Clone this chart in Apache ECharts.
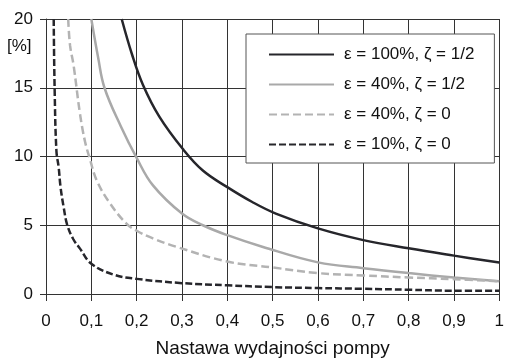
<!DOCTYPE html>
<html>
<head>
<meta charset="utf-8">
<script src="https://cdn.jsdelivr.net/npm/echarts@6/dist/echarts.min.js"></script>
<style>
  html, body { margin: 0; padding: 0; background: #fff; }
  #chart { width: 507px; height: 363px; }
</style>
</head>
<body>
<div id="chart"></div>
<script>
// serie: [nastawa, blad %]
var names = ["ε = 100%, ζ = 1/2", "ε = 40%, ζ = 1/2", "ε = 40%, ζ = 0", "ε = 10%, ζ = 0"];
var s1 = [[0.167, 20], [0.19, 17.4], [0.214, 15.2], [0.25, 12.9], [0.302, 10.54], [0.346, 8.98],
  [0.4, 7.77], [0.455, 6.69], [0.507, 5.85], [0.6, 4.77], [0.7, 3.92], [0.8, 3.32], [0.9, 2.79], [1.0, 2.29]];
var s2 = [[0.1, 20], [0.115, 17.2], [0.129, 15], [0.165, 12.2], [0.2, 9.9], [0.236, 7.9], [0.3, 5.85],
  [0.346, 5.0], [0.4, 4.28], [0.477, 3.44], [0.6, 2.3], [0.7, 1.88], [0.8, 1.52], [0.9, 1.2], [1.0, 0.92]];
var s3 = [[0.049, 20], [0.053, 18.1], [0.061, 16.6], [0.075, 13.1], [0.086, 11.1], [0.097, 9.8],
  [0.112, 8.25], [0.141, 6.6], [0.178, 5.1], [0.2, 4.6], [0.236, 4.04], [0.287, 3.44], [0.4, 2.36],
  [0.5, 1.93], [0.6, 1.52], [0.7, 1.35], [0.8, 1.2], [0.9, 1.08], [1.0, 0.92]];
var s4 = [[0.017, 20], [0.019, 15], [0.023, 10.4], [0.028, 9.2], [0.032, 7.8], [0.039, 6.3],
  [0.047, 5.0], [0.06, 4.0], [0.075, 3.3], [0.1, 2.2], [0.15, 1.4], [0.2, 1.1], [0.3, 0.79],
  [0.4, 0.63], [0.5, 0.5], [0.6, 0.43], [0.7, 0.38], [0.8, 0.31], [0.9, 0.24], [1.0, 0.24]];
var xTicks = [0, 0.1, 0.2, 0.3, 0.4, 0.5, 0.6, 0.7, 0.8, 0.9, 1];
var yTicks = [0, 5, 10, 15, 20];

var font = "Liberation Sans, Arial, sans-serif";
var myChart = echarts.init(document.getElementById("chart"));

var mkLine = function (name, data, color, type) {
  return {
    name: name,
    type: "line",
    data: data,
    symbol: "none",
    smooth: 0.4,
    lineStyle: { color: color, width: 2.5, type: type },
    itemStyle: { color: color },
  };
};

var option = {
  animation: false,
  textStyle: { fontFamily: font },
  grid: { left: 46, right: 5, top: 19, bottom: 67 },
  legend: {
    orient: "vertical",
    left: 246,
    top: 34,
    backgroundColor: "#fff",
    borderColor: "#555",
    borderWidth: 1,
    borderRadius: 0,
    padding: [12, 20, 10, 22],
    itemWidth: 65,
    itemHeight: 14,
    itemGap: 13,
    itemStyle: { opacity: 0 },
    textStyle: { fontSize: 17, color: "#111", padding: [0, 0, 0, 5] },
    data: names,
  },
  graphic: [
    {
      type: "text",
      left: 7,
      top: 38,
      style: { text: "[%]", fontSize: 17, fill: "#111", fontFamily: font },
    },
  ],
  xAxis: {
    type: "value",
    min: 0,
    max: 1,
    interval: 0.1,
    name: "Nastawa wydajności pompy",
    nameLocation: "middle",
    nameGap: 45,
    nameTextStyle: { fontSize: 19, color: "#111" },
    axisLine: { lineStyle: { color: "#333", width: 1 } },
    axisTick: { length: 7, lineStyle: { color: "#333" } },
    axisLabel: {
      fontSize: 17,
      color: "#111",
      margin: 19,
      formatter: function (v) {
        var t = xTicks.find(function (x) { return Math.abs(x - v) < 1e-6; });
        return t === undefined ? "" : String(t).replace(".", ",");
      },
    },
    splitLine: { show: true, lineStyle: { color: "#333", width: 1 } },
  },
  yAxis: {
    type: "value",
    min: 0,
    max: 20,
    interval: 5,
    axisLine: { show: true, lineStyle: { color: "#333", width: 1 } },
    axisTick: { show: true, length: 6, lineStyle: { color: "#333" } },
    axisLabel: {
      fontSize: 17,
      color: "#111",
      margin: 13,
      formatter: function (v) { return yTicks.indexOf(v) >= 0 ? String(v) : ""; },
    },
    splitLine: { show: true, lineStyle: { color: "#333", width: 1 } },
  },
  series: [
    mkLine(names[0], s1, "#26262b", "solid"),
    mkLine(names[1], s2, "#a9a9a9", "solid"),
    mkLine(names[2], s3, "#b3b3b3", [8, 4]),
    mkLine(names[3], s4, "#26262b", [7, 3]),
  ],
};
option && myChart.setOption(option);
</script>
</body>
</html>
